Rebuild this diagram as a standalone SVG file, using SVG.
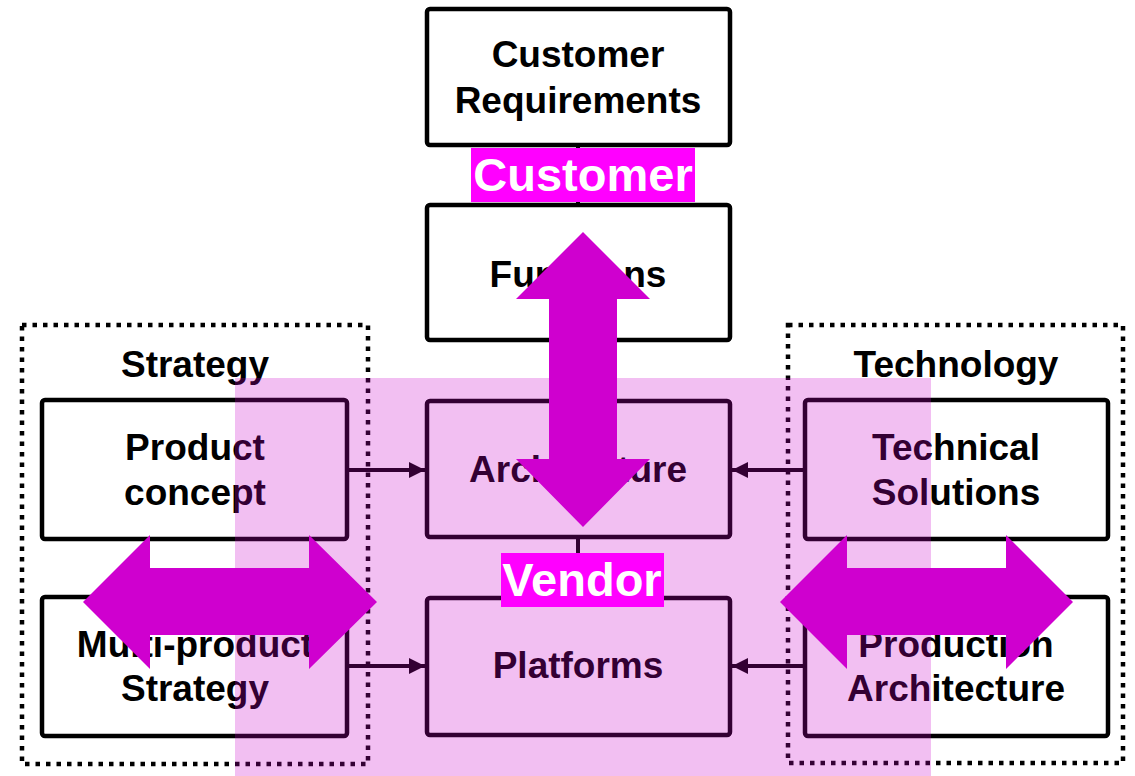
<svg xmlns="http://www.w3.org/2000/svg" width="1135" height="776" viewBox="0 0 1135 776">
<defs>
<style>
.box{fill:#fff;stroke:#000;stroke-width:4.5}
.grp{fill:none;stroke:#000;stroke-width:4.5;stroke-dasharray:4.5 6}
.t{font-family:"Liberation Sans",Arial,sans-serif;font-weight:bold;font-size:37px;fill:#000;text-anchor:middle}
.lbl{font-family:"Liberation Sans",Arial,sans-serif;font-weight:bold;font-size:47px;fill:#fff;text-anchor:middle}
.con{fill:none;stroke:#000;stroke-width:4}
.big{fill:#CF00CF}
</style>
<marker id="ah" viewBox="0 0 10 10" refX="10" refY="5" markerWidth="4" markerHeight="4" markerUnits="strokeWidth" orient="auto">
<path d="M0,0 L10,5 L0,10 z" fill="#000"/>
</marker>
</defs>
<rect width="1135" height="776" fill="#fff"/>
<g id="strategy-group">
<rect class="grp" x="22" y="325" width="346" height="439"/>
<text class="t" x="195" y="377">Strategy</text>
</g>
<g id="technology-group">
<rect class="grp" x="788" y="325" width="335" height="438"/>
<text class="t" x="956" y="377">Technology</text>
</g>
<g id="connectors">
<line class="con" x1="578" y1="145" x2="578" y2="205"/>
<line class="con" x1="578" y1="537" x2="578" y2="598"/>
<line class="con" x1="347" y1="470" x2="425" y2="470" marker-end="url(#ah)"/>
<line class="con" x1="347" y1="666" x2="425" y2="666" marker-end="url(#ah)"/>
<line class="con" x1="805" y1="470" x2="732" y2="470" marker-end="url(#ah)"/>
<line class="con" x1="805" y1="666" x2="732" y2="666" marker-end="url(#ah)"/>
</g>
<g id="customer-requirements">
<rect class="box" x="427" y="9" width="303" height="136" rx="3"/>
<text class="t" x="578" y="67">Customer</text>
<text class="t" x="578" y="113">Requirements</text>
</g>
<g id="functions">
<rect class="box" x="427" y="205" width="303" height="135" rx="3"/>
<text class="t" x="578" y="287">Functions</text>
</g>
<g id="architecture">
<rect class="box" x="427" y="401" width="303" height="136" rx="3"/>
<text class="t" x="578" y="482">Architecture</text>
</g>
<g id="platforms">
<rect class="box" x="427" y="598" width="303" height="137" rx="3"/>
<text class="t" x="578" y="678">Platforms</text>
</g>
<g id="product-concept">
<rect class="box" x="42" y="400" width="305" height="139" rx="3"/>
<text class="t" x="195" y="460">Product</text>
<text class="t" x="195" y="505">concept</text>
</g>
<g id="multi-product-strategy">
<rect class="box" x="42" y="597" width="305" height="139" rx="3"/>
<text class="t" x="195" y="657">Multi-product</text>
<text class="t" x="195" y="701">Strategy</text>
</g>
<g id="technical-solutions">
<rect class="box" x="805" y="400" width="303" height="139" rx="3"/>
<text class="t" x="956" y="460">Technical</text>
<text class="t" x="956" y="505">Solutions</text>
</g>
<g id="production-architecture">
<rect class="box" x="805" y="597" width="303" height="139" rx="3"/>
<text class="t" x="956" y="657">Production</text>
<text class="t" x="956" y="701">Architecture</text>
</g>
<rect id="vendor-area" x="235" y="378" width="696" height="398" fill="#CC00CC" fill-opacity="0.25"/>
<g id="big-arrows">
<polygon class="big" points="583,232 650,299 617,299 617,459 650,459 583,527 516,459 549,459 549,299 516,299"/>
<polygon class="big" points="83,602 150,535 150,568 309,568 309,535 377,602 309,669 309,635 150,635 150,669"/>
<polygon class="big" points="780,602 847,535 847,568 1006,568 1006,535 1073,602 1006,669 1006,635 847,635 847,669"/>
</g>
<g id="customer-label">
<rect x="471" y="148" width="224" height="54" fill="#FF00FF"/>
<text class="lbl" x="583" y="191">Customer</text>
</g>
<g id="vendor-label">
<rect x="501" y="553" width="163" height="54" fill="#FF00FF"/>
<text class="lbl" x="582" y="596">Vendor</text>
</g>
</svg>
